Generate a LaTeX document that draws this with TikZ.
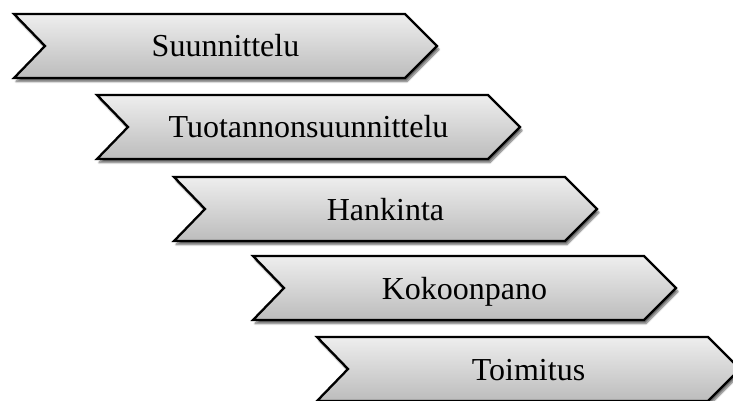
\documentclass[tikz,border=0pt]{standalone}
\usepackage{fontspec}
\setmainfont{Liberation Serif}
\usetikzlibrary{shadows.blur}
\definecolor{chevtop}{RGB}{238,238,238}
\definecolor{chevbot}{RGB}{188,188,188}
\tikzset{
  chevron/.style={draw=black, line width=2.3pt, line join=miter,
    top color=chevtop, bottom color=chevbot,
    blur shadow={shadow xshift=2pt, shadow yshift=-3.5pt,
      shadow blur steps=6, shadow opacity=60}},
  stepname/.style={anchor=base, inner sep=0pt,
    font=\fontsize{32}{36}\selectfont, text=black}
}
\begin{document}
\begin{tikzpicture}[x=1pt, y=-1pt]
  \useasboundingbox (0,0) rectangle (733,401);
  \clip (0,0) rectangle (733,401);
  % left edge, top edge, text of each process step
  \foreach \l/\t/\name/\txt in {14/14/s1/Suunnittelu,
                                 97/95/s2/Tuotannonsuunnittelu,
                                 174/177/s3/Hankinta,
                                 253/256/s4/Kokoonpano,
                                 317/337/s5/Toimitus}{
    \path[chevron] (\l,\t) -- ++(391,0) -- ++(32,32) -- ++(-32,32)
      -- ++(-391,0) -- ++(31,-32) -- cycle;
    \node[stepname] (\name) at (\l+211.5,\t+43) {\txt};
  }
\end{tikzpicture}
\end{document}
